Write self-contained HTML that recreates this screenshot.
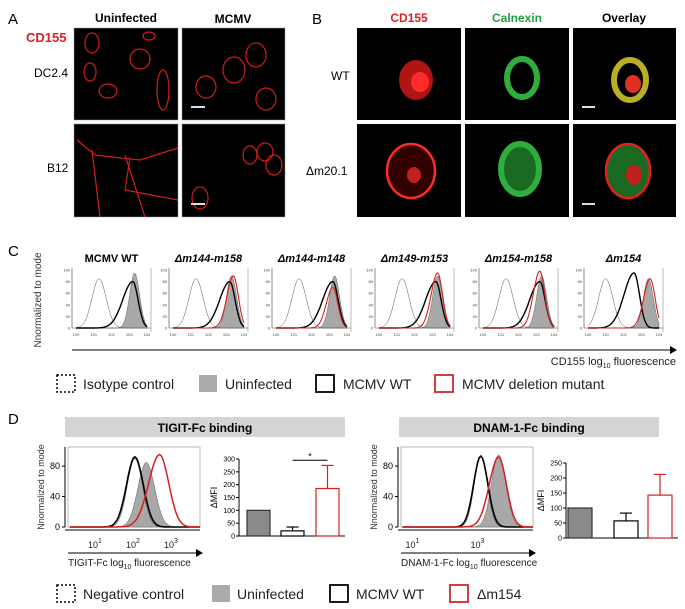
<!DOCTYPE html>
<html><head><meta charset="utf-8"><style>
html,body{margin:0;padding:0;background:#fff;}
svg{display:block;font-family:"Liberation Sans",Arial,sans-serif;}
</style></head><body>
<svg id="fig" width="685" height="609" viewBox="0 0 685 609">
<!-- Panel A -->
<text x="8" y="24" font-size="15">A</text>
<text x="126" y="22" font-size="12" font-weight="bold" text-anchor="middle">Uninfected</text>
<text x="233" y="23" font-size="12" font-weight="bold" text-anchor="middle">MCMV</text>
<text x="26" y="42" font-size="13" font-weight="bold" fill="#e02020">CD155</text>
<text x="34" y="77" font-size="12">DC2.4</text>
<text x="47" y="172" font-size="12">B12</text>
<g fill="none" stroke="#d41c1c" stroke-width="1.2">
<rect x="74" y="28" width="104" height="92" fill="#000" stroke="#999" stroke-width="0.5"/>
<rect x="182" y="28" width="103" height="92" fill="#000" stroke="#999" stroke-width="0.5"/>
<rect x="74" y="124" width="104" height="93" fill="#000" stroke="#999" stroke-width="0.5"/>
<rect x="182" y="124" width="103" height="93" fill="#000" stroke="#999" stroke-width="0.5"/>
<ellipse cx="92" cy="43" rx="7" ry="10"/><ellipse cx="140" cy="59" rx="10" ry="10"/><ellipse cx="90" cy="72" rx="6" ry="9"/>
<ellipse cx="108" cy="91" rx="9" ry="7"/><ellipse cx="163" cy="90" rx="6" ry="20"/><ellipse cx="149" cy="36" rx="6" ry="4"/>
<ellipse cx="234" cy="70" rx="11" ry="13"/><ellipse cx="256" cy="55" rx="10" ry="12"/><ellipse cx="206" cy="87" rx="10" ry="11"/><ellipse cx="266" cy="99" rx="10" ry="11"/>
<path d="M77 140 L95 155 L140 160 L178 148 M92 150 L100 217 M125 155 L145 217 M130 158 L125 190 L178 200" />
<ellipse cx="250" cy="155" rx="7" ry="9"/><ellipse cx="265" cy="152" rx="8" ry="9"/><ellipse cx="274" cy="165" rx="8" ry="10"/><ellipse cx="200" cy="198" rx="8" ry="11"/>
</g>
<g stroke="#ddd" stroke-width="2"><line x1="191" y1="107" x2="205" y2="107"/><line x1="191" y1="204" x2="205" y2="204"/></g>
<!-- Panel B -->
<text x="312" y="24" font-size="15">B</text>
<text x="409" y="22" font-size="12" font-weight="bold" fill="#e02020" text-anchor="middle">CD155</text>
<text x="517" y="22" font-size="12" font-weight="bold" fill="#20a040" text-anchor="middle">Calnexin</text>
<text x="624" y="22" font-size="12" font-weight="bold" text-anchor="middle">Overlay</text>
<text x="331" y="80" font-size="12">WT</text>
<text x="306" y="175" font-size="12">Δm20.1</text>
<g>
<rect x="357" y="28" width="104" height="92" fill="#000"/><rect x="465" y="28" width="104" height="92" fill="#000"/><rect x="573" y="28" width="103" height="92" fill="#000"/>
<rect x="357" y="124" width="104" height="93" fill="#000"/><rect x="465" y="124" width="104" height="93" fill="#000"/><rect x="573" y="124" width="103" height="93" fill="#000"/>
<ellipse cx="416" cy="80" rx="17" ry="20" fill="#b01515"/><ellipse cx="420" cy="82" rx="9" ry="10" fill="#ff2a2a"/>
<ellipse cx="522" cy="78" rx="15" ry="19" fill="none" stroke="#2fae3f" stroke-width="6"/>
<ellipse cx="630" cy="80" rx="16" ry="20" fill="none" stroke="#b8b020" stroke-width="6"/><ellipse cx="633" cy="84" rx="8" ry="9" fill="#e03020"/>
<ellipse cx="411" cy="171" rx="24" ry="27" fill="#300" stroke="#ff2a2a" stroke-width="2.5"/><ellipse cx="414" cy="175" rx="7" ry="8" fill="#c02020"/>
<ellipse cx="520" cy="169" rx="19" ry="25" fill="#1a6a22" stroke="#2fae3f" stroke-width="6"/>
<ellipse cx="628" cy="171" rx="22" ry="27" fill="#1a6a22" stroke="#e02020" stroke-width="2.5"/><ellipse cx="634" cy="175" rx="8" ry="10" fill="#c02020"/>
</g>
<g stroke="#ddd" stroke-width="2"><line x1="582" y1="107" x2="595" y2="107"/><line x1="582" y1="204" x2="595" y2="204"/></g>
<!-- Panel C -->
<text x="8" y="256" font-size="15">C</text>
<text transform="translate(41,300) rotate(-90)" font-size="10" fill="#333" text-anchor="middle">Nnormalized to mode</text>
<g id="cPanels"></g>
<line x1="72" y1="350" x2="670" y2="350" stroke="#555" stroke-width="1.5"/>
<polygon points="670,346 677,350 670,354" fill="#000"/>
<text x="676" y="365" font-size="11" fill="#222" text-anchor="end">CD155 log<tspan font-size="7" dy="3">10</tspan><tspan dy="-3"> fluorescence</tspan></text>
<g font-size="14" fill="#222">
<rect x="57" y="375" width="18" height="17" fill="none" stroke="#000" stroke-width="1.5" stroke-dasharray="2,2"/>
<text x="83" y="389">Isotype control</text>
<rect x="199" y="375" width="18" height="17" fill="#aaa"/>
<text x="225" y="389">Uninfected</text>
<rect x="316" y="375" width="18" height="17" fill="none" stroke="#000" stroke-width="1.8"/>
<text x="343" y="389">MCMV WT</text>
<rect x="435" y="375" width="18" height="17" fill="none" stroke="#d02828" stroke-width="1.8"/>
<text x="462" y="389">MCMV deletion mutant</text>
</g>
<!-- Panel D -->
<text x="8" y="424" font-size="15">D</text>
<rect x="65" y="417" width="280" height="20" fill="#d4d4d4"/>
<text x="205" y="432" font-size="12" font-weight="bold" text-anchor="middle">TIGIT-Fc binding</text>
<rect x="399" y="417" width="260" height="20" fill="#d4d4d4"/>
<text x="529" y="432" font-size="12" font-weight="bold" text-anchor="middle">DNAM-1-Fc binding</text>
<g id="dCharts"></g>
<g font-size="14" fill="#222">
<rect x="57" y="585" width="18" height="17" fill="none" stroke="#000" stroke-width="1.5" stroke-dasharray="2,2"/>
<text x="83" y="599">Negative control</text>
<rect x="212" y="585" width="18" height="17" fill="#aaa"/>
<text x="237" y="599">Uninfected</text>
<rect x="330" y="585" width="18" height="17" fill="none" stroke="#000" stroke-width="1.8"/>
<text x="356" y="599">MCMV WT</text>
<rect x="450" y="585" width="18" height="17" fill="none" stroke="#d02828" stroke-width="1.8"/>
<text x="477" y="599">Δm154</text>
</g>
</svg>
<script>
// Panel C data: peak log10 position, width (decades), height (% of mode)
const cTitles = ["MCMV WT","Δm144-m158","Δm144-m148","Δm149-m153","Δm154-m158","Δm154"];
const cIsoPeak = [1.3,1.3,1.3,1.3,1.3,1.0];
const cWtPeak = [3.2,3.2,3.2,3.2,3.2,2.6];
const cUninfPeak = [3.3,3.3,3.3,3.3,3.3,3.4];
const cMutPeak = [null,3.4,3.2,3.3,3.2,3.5];
const cMutHeight = [0,90,70,95,98,85];
const cWtHeight = [80,80,80,80,80,95];
const cUninfHeight = [95,90,90,90,90,85];
const cTickLabels = ["0","1","2","3","4"];
// Panel D data
const dTigitPeaks = {neg:2.05, wt:2.05, uninf:2.35, mut:2.7};
const dTigitHeights = {neg:90, wt:92, uninf:85, mut:95};
const dDnamPeaks = {neg:3.1, wt:3.1, uninf:3.65, mut:3.65};
const dDnamHeights = {neg:93, wt:93, uninf:95, mut:92};
const barCategories = ["Uninfected","MCMV WT","Δm154"];
const tigitMeans = [100, 20, 185];
const tigitErrors = [0, 15, 90];
const dnamMeans = [100, 57, 143];
const dnamErrors = [0, 26, 69];
const tigitTicks = [0,50,100,150,200,250,300];
const dnamTicks = [0,50,100,150,200,250];

const NS="http://www.w3.org/2000/svg";
function mk(tag, attrs, parent){const e=document.createElementNS(NS,tag);for(const k in attrs)e.setAttribute(k,attrs[k]);parent.appendChild(e);return e;}

function histPath(xs, ys, peak, width, height, skew, close){
  let d="";const n=80;
  for(let i=0;i<=n;i++){
    const lv=xs.min+(xs.max-xs.min)*i/n;
    const w = lv<peak ? width*skew : width;
    const v=height*Math.exp(-Math.pow((lv-peak)/w,2)/2);
    d+=(i?"L":"M")+xs.f(lv).toFixed(1)+" "+ys(v).toFixed(1);
  }
  if(close) d+="L"+xs.f(xs.max)+" "+ys(0)+"L"+xs.f(xs.min)+" "+ys(0)+"Z";
  return d;
}

const cg=document.getElementById("cPanels");
const cX0=[72,169,272,375,479,584], cW=79, cTop=270, cBot=328;
cTitles.forEach((t,i)=>{
  const g=mk("g",{},cg);
  
  
  const x0=cX0[i];
  const xs={min:0,max:4,f:v=>x0+4+(cW-8)*v/4};
  const ys=v=>cBot-(cBot-cTop)*v/100;
  const tt=mk("text",{x:x0+cW/2,y:275-3,"font-size":11,"font-weight":"bold","font-style":i?"italic":"normal","text-anchor":"middle"},g);
  tt.textContent=t;
  
  
  tt.setAttribute('y',262);
  mk("line",{x1:x0+cW,y1:cTop-2,x2:x0+cW,y2:cBot+4,stroke:"#bbb","stroke-width":1},g);
  mk("line",{x1:x0,y1:cTop-2,x2:x0,y2:cBot,stroke:"#444","stroke-width":0.6},g);
  mk("line",{x1:x0,y1:cBot,x2:x0+cW,y2:cBot,stroke:"#444","stroke-width":0.6},g);
  [0,20,40,60,80,100].forEach(v=>{const l=mk("text",{x:x0-2,y:ys(v)+1.5,"font-size":4,"text-anchor":"end",fill:"#444"},g);l.textContent=v;});
  cTickLabels.forEach((lab,k)=>{const l=mk("text",{x:xs.f(k),y:cBot+8,"font-size":4,"text-anchor":"middle",fill:"#444"},g);l.textContent="10"+lab;});
  mk("path",{d:histPath(xs,ys,cUninfPeak[i],0.28,cUninfHeight[i],1,true),fill:"#a8a8a8",stroke:"#666","stroke-width":0.5},g);
  mk("path",{d:histPath(xs,ys,cIsoPeak[i],0.4,85,1,false),fill:"none",stroke:"#555","stroke-width":0.5},g);
  mk("path",{d:histPath(xs,ys,cWtPeak[i],0.3,cWtHeight[i],1.9,false),fill:"none",stroke:"#000","stroke-width":1.4},g);
  if(cMutPeak[i]!==null) mk("path",{d:histPath(xs,ys,cMutPeak[i],0.28,cMutHeight[i],1.3,false),fill:"none",stroke:"#d42020","stroke-width":1.1},g);
});

const dg=document.getElementById("dCharts");
function dHist(name,x0,x1,top,bot,dec0,ppd,peaks,heights,labels,axisTitle){
  const g=mk("g",{},dg);
  
  
  const xs={min:(x0-dec0)/ppd+0.05,max:(x1-dec0)/ppd,f:v=>dec0+ppd*v};
  const ys=v=>bot-(bot-top)*v/105;
  mk("rect",{x:x0,y:top,width:x1-x0,height:bot-top,fill:"none",stroke:"#888","stroke-width":0.6},g);
  mk("line",{x1:x0-3,y1:top,x2:x0-3,y2:bot,stroke:"#000","stroke-width":1},g);
  mk("line",{x1:x0-3,y1:bot+3,x2:x1,y2:bot+3,stroke:"#000","stroke-width":1},g);
  [0,40,80].forEach(v=>{const l=mk("text",{x:x0-8,y:ys(v)+3,"font-size":9,"text-anchor":"end"},g);l.textContent=v;mk("line",{x1:x0-6,y1:ys(v),x2:x0-3,y2:ys(v),stroke:"#000"},g);});
  mk("path",{d:histPath(xs,ys,peaks.uninf,0.22,heights.uninf,1,true),fill:"#a8a8a8",stroke:"#666","stroke-width":0.5},g);
  mk("path",{d:histPath(xs,ys,peaks.neg,0.2,heights.neg,1,false),fill:"none",stroke:"#555","stroke-width":0.6},g);
  mk("path",{d:histPath(xs,ys,peaks.wt,0.22,heights.wt,1,false),fill:"none",stroke:"#000","stroke-width":1.6},g);
  mk("path",{d:histPath(xs,ys,peaks.mut,0.24,heights.mut,1.2,false),fill:"none",stroke:"#d42020","stroke-width":1.5},g);
  labels.forEach(k=>{const l=mk("text",{x:xs.f(k),y:bot+21,"font-size":9,"text-anchor":"middle",fill:"#222"},g);l.textContent="10";const s=mk("tspan",{dy:-5,"font-size":7},l);s.textContent=k;});
  mk("line",{x1:x0,y1:553,x2:x1-4,y2:553,stroke:"#555","stroke-width":1.5},g);
  mk("polygon",{points:`${x1-4},549 ${x1+3},553 ${x1-4},557`,fill:"#000"},g);
  const at=mk("text",{x:x0,y:566,"font-size":10,fill:"#222"},g);at.textContent=axisTitle+" log";
  const s=mk("tspan",{dy:3,"font-size":7},at);s.textContent="10";const s2=mk("tspan",{dy:-3},at);s2.textContent=" fluorescence";
  const yt=mk("text",{transform:`translate(${x0-24},${(top+bot)/2}) rotate(-90)`,"font-size":9,"text-anchor":"middle",fill:"#333"},g);yt.textContent="Nnormalized to mode";
}
dHist("tigit-histogram",68,200,447,527,57,38,dTigitPeaks,dTigitHeights,[1,2,3],"TIGIT-Fc");
dHist("dnam-histogram",401,533,447,527,380,32.5,dDnamPeaks,dDnamHeights,[1,3],"DNAM-1-Fc");

function barChart(name,ax,top,bot,ticks,means,errs,bxs,bw,sig){
  const g=mk("g",{},dg);
  
  
  const max=ticks[ticks.length-1];
  const ys=v=>bot-(bot-top)*v/max;
  mk("line",{x1:ax,y1:top,x2:ax,y2:bot,stroke:"#000"},g);
  mk("line",{x1:ax,y1:bot,x2:bxs[2]+bw+6,y2:bot,stroke:"#000"},g);
  ticks.forEach(v=>{mk("line",{x1:ax-3,y1:ys(v),x2:ax,y2:ys(v),stroke:"#000"},g);const l=mk("text",{x:ax-4,y:ys(v)+2.5,"font-size":7,"text-anchor":"end"},g);l.textContent=v;});
  const yt=mk("text",{transform:`translate(${ax-22},${(top+bot)/2}) rotate(-90)`,"font-size":9,"text-anchor":"middle"},g);yt.textContent="ΔMFI";
  const fills=["#8a8a8a","#fff","#fff"],strokes=["#333","#000","#d42020"];
  means.forEach((m,i)=>{
    const r=mk("rect",{x:bxs[i],y:ys(m),width:bw,height:bot-ys(m),fill:fills[i],stroke:strokes[i],"stroke-width":1.2},g);
    
    
    if(errs[i]>0){const cx=bxs[i]+bw/2;mk("line",{x1:cx,y1:ys(m),x2:cx,y2:ys(m+errs[i]),stroke:strokes[i],"stroke-width":1.2},g);mk("line",{x1:cx-6,y1:ys(m+errs[i]),x2:cx+6,y2:ys(m+errs[i]),stroke:strokes[i],"stroke-width":1.2},g);}
  });
  if(sig){mk("line",{x1:bxs[1]+bw/2,y1:ys(sig),x2:bxs[2]+bw/2,y2:ys(sig),stroke:"#000"},g);const st=mk("text",{x:(bxs[1]+bxs[2])/2+bw/2,y:ys(sig)-1,"font-size":9,"text-anchor":"middle"},g);st.textContent="*";}
}
barChart("tigit-bar-chart",239,459,536,tigitTicks,tigitMeans,tigitErrors,[247,281,316],23,295);
barChart("dnam-bar-chart",566,463,538,dnamTicks,dnamMeans,dnamErrors,[568,614,648],24,null);
</script>
</body></html>
